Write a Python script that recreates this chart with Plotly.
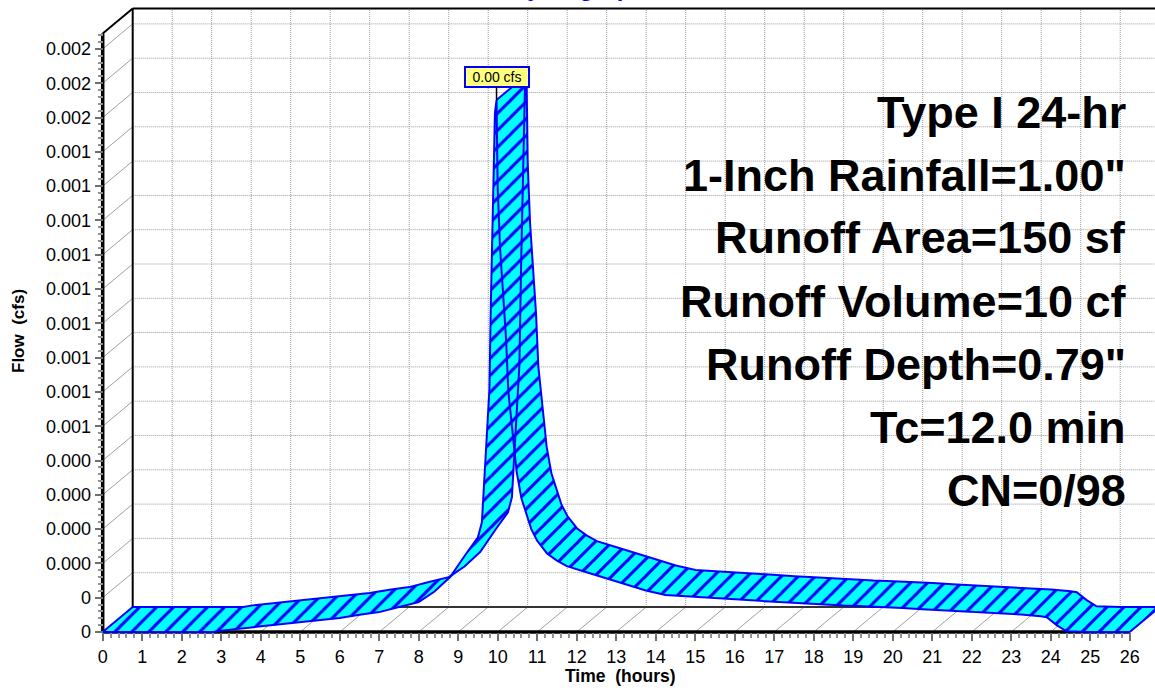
import numpy as np
import plotly.graph_objects as go

# ---------------------------------------------------------------------------
# Hydrograph ordinates (front edge of the 3-D ribbon)
# ---------------------------------------------------------------------------
time_hr = [0.0, 2.8, 3.0, 3.5, 4.0, 4.5, 5.0, 5.5, 6.0, 6.5, 7.0, 7.5, 8.0, 8.4, 8.8,
           9.2, 9.5, 9.6, 9.68, 9.74, 9.79, 9.83, 9.89, 9.93, 9.97, 10.0, 10.06,
           10.14, 10.21, 10.27, 10.39, 10.48, 10.6, 10.73, 10.85, 11.0, 11.25, 11.5,
           11.75, 12.25, 12.75, 13.25, 13.75, 14.25, 14.75, 15.25, 15.75, 16.25,
           16.75, 17.25, 17.75, 18.25, 18.75, 19.25, 19.75, 20.25, 20.75, 21.25,
           21.75, 22.25, 22.75, 23.25, 23.75, 23.9, 24.15, 24.4, 25.0, 26.0]
flow_cfs = [0.0, 0.0, 0.000004, 0.000010, 0.000015, 0.000021, 0.000029, 0.000035,
            0.000041, 0.000050, 0.000058, 0.000073, 0.000087, 0.000118, 0.000161,
            0.000228, 0.000276, 0.000320, 0.000472, 0.000580, 0.000706, 0.000978,
            0.001290, 0.001513, 0.001551, 0.001294, 0.001119, 0.000973, 0.000857,
            0.000700, 0.000565, 0.000467, 0.000390, 0.000340, 0.000300, 0.000266,
            0.000229, 0.000208, 0.000192, 0.000174, 0.000157, 0.000138, 0.000121,
            0.000108, 0.000104, 0.000102, 0.000098, 0.000094, 0.000090, 0.000087,
            0.000083, 0.000080, 0.000077, 0.000075, 0.000073, 0.000070, 0.000066,
            0.000063, 0.000061, 0.000058, 0.000055, 0.000051, 0.000046, 0.000043,
            0.000020, 0.000002, 0.0, 0.0]

# Axis ticks
x_tickvals = list(range(0, 27))
y_tickvals = [round(0.0001 * k, 4) for k in range(18)]
y_ticktext = ["0", "0", "0.000", "0.000", "0.000", "0.000"] + ["0.001"] * 9 + ["0.002"] * 3
flow_axis_top = 0.001745          # top of the front flow axis (cfs)

# Storm / subcatchment summary
summary_lines = ["Type I 24-hr", "1-Inch Rainfall=1.00\"", "Runoff Area=150 sf",
                 "Runoff Volume=10 cf", "Runoff Depth=0.79\"", "Tc=12.0 min", "CN=0/98"]
chart_title = "Hydrograph"
x_title = "Time \u00a0(hours)"
y_title = "Flow \u00a0(cfs)"

# ---------------------------------------------------------------------------
# Page geometry and pseudo-3D depth
# ---------------------------------------------------------------------------
W, H = 1155, 688
X0_PX, PX_PER_HR = 102.7, 39.5        # front time axis origin / scale
Y0_PX, PX_PER_CFS = 632.0, 343000.0    # front flow axis origin / scale
DEPTH_PX = (30.0, 25.0)                # back plane offset (right, up)

x_range = [-X0_PX / PX_PER_HR, (W - X0_PX) / PX_PER_HR]
y_range = [-(H - Y0_PX) / PX_PER_CFS, Y0_PX / PX_PER_CFS]
dx = DEPTH_PX[0] / PX_PER_HR
dy = DEPTH_PX[1] / PX_PER_CFS
x_far = x_range[1] + 1.0
t_end = x_tickvals[-1]

FONT = "Liberation Sans, Arial, sans-serif"
BLUE = "#0000ff"
CYAN = "#00ffff"


def seglines(segments):
    xs, ys = [], []
    for (xa, ya), (xb, yb) in segments:
        xs += [xa, xb, None]
        ys += [ya, yb, None]
    return xs, ys


fig = go.Figure()

# Back-plane grid (dotted)
grid = [((h + dx, dy), (h + dx, flow_axis_top + dy)) for h in x_tickvals[1:]]
grid += [((dx, v + dy), (x_far, v + dy)) for v in y_tickvals[1:]]
gx, gy = seglines(grid)
fig.add_trace(go.Scatter(x=gx, y=gy, mode="lines",
                         line=dict(color="#9a9a9a", width=1, dash="1px,1px"),
                         hoverinfo="skip"))

# Depth lines on the floor and side wall
depth = [((h, 0), (h + dx, dy)) for h in x_tickvals[1:]]
depth += [((0, v), (dx, v + dy)) for v in y_tickvals[1:]]
dxs, dys = seglines(depth)
fig.add_trace(go.Scatter(x=dxs, y=dys, mode="lines",
                         line=dict(color="#a0a0a0", width=1), hoverinfo="skip"))

# Back plane frame
fig.add_trace(go.Scatter(x=[dx, x_far], y=[dy, dy], mode="lines",
                         line=dict(color="#333333", width=2), hoverinfo="skip"))
frame = [((dx, dy), (dx, flow_axis_top + dy)),
         ((dx, flow_axis_top + dy), (x_far, flow_axis_top + dy)),
         ((0, flow_axis_top), (dx, flow_axis_top + dy))]
fx, fy = seglines(frame)
fig.add_trace(go.Scatter(x=fx, y=fy, mode="lines",
                         line=dict(color="black", width=2), hoverinfo="skip"))

# Front axis lines
fig.add_trace(go.Scatter(x=[0, 0, None, 0, t_end], y=[flow_axis_top, 0, None, 0, 0],
                         mode="lines", line=dict(color="black", width=3.5),
                         hoverinfo="skip"))

# Hydrograph ribbon: one parallelogram per time step, all wound the same way
t = np.asarray(time_hr, dtype=float)
q = np.asarray(flow_cfs, dtype=float)
rx, ry = [], []
for i in range(len(t) - 1):
    quad = [(t[i], q[i]), (t[i + 1], q[i + 1]), (t[i + 1] + dx, q[i + 1] + dy), (t[i] + dx, q[i] + dy)]
    area = 0.0
    for k in range(4):
        xa, ya = quad[k]
        xb, yb = quad[(k + 1) % 4]
        area += (xa * PX_PER_HR) * (yb * PX_PER_CFS) - (xb * PX_PER_HR) * (ya * PX_PER_CFS)
    if area < 0:
        quad = quad[::-1]
    for xv, yv in quad + [quad[0]]:
        rx.append(xv)
        ry.append(yv)
    rx.append(None)
    ry.append(None)

fig.add_trace(go.Scatter(x=rx, y=ry, mode="lines", fill="toself",
                         fillcolor=CYAN, line=dict(width=0, color="rgba(0,0,0,0)"),
                         fillpattern=dict(shape="/", fgcolor=BLUE, bgcolor=CYAN,
                                          size=12, solidity=0.25, fillmode="replace"),
                         hoverinfo="skip"))

ipk = int(np.argmax(q))
edge_x = list(t) + [None] + list(t + dx)
edge_y = list(q) + [None] + list(q + dy)
for i in (0, ipk, len(t) - 1):
    edge_x += [None, t[i], t[i] + dx]
    edge_y += [None, q[i], q[i] + dy]
fig.add_trace(go.Scatter(x=edge_x, y=edge_y, mode="lines",
                         line=dict(color=BLUE, width=2), hoverinfo="skip"))

# ---------------------------------------------------------------------------
# Annotations
# ---------------------------------------------------------------------------
def px_x(p):
    return p / W


def px_y(p):
    return 1 - p / H


annotations = []
line_top, line_step = 112, 63
for j, txt in enumerate(summary_lines):
    annotations.append(dict(text=f"<b>{txt}</b>", xref="paper", yref="paper",
                            x=px_x(1128), y=px_y(line_top + j * line_step),
                            xanchor="right", yanchor="middle", showarrow=False,
                            font=dict(family=FONT, size=45, color="black")))

annotations.append(dict(text=f"<b>{x_title}</b>", xref="paper", yref="paper",
                        x=px_x(620), y=px_y(676), xanchor="center", yanchor="middle",
                        showarrow=False, font=dict(family=FONT, size=17.5, color="black")))
annotations.append(dict(text=f"<b>{y_title}</b>", xref="paper", yref="paper",
                        x=px_x(18), y=px_y(331), xanchor="center", yanchor="middle",
                        textangle=-90, showarrow=False,
                        font=dict(family=FONT, size=17, color="black")))
annotations.append(dict(text=f"<b>{chart_title}</b>", xref="paper", yref="paper",
                        x=px_x(578), y=1, xanchor="center", yanchor="bottom", yshift=-3,
                        showarrow=False, font=dict(family=FONT, size=24, color=BLUE)))

annotations.append(dict(text=f"{q[ipk]:.2f} cfs", x=t[ipk], y=q[ipk], xref="x", yref="y",
                        showarrow=True, arrowhead=0, arrowwidth=1.5, arrowcolor="black",
                        ax=0, ay=-23, bgcolor="#ffff80", bordercolor=BLUE,
                        borderwidth=2, borderpad=1, width=60, height=16,
                        font=dict(family=FONT, size=14, color="black")))

tick_font = dict(family=FONT, size=18, color="black")
x_minor = [h + 0.2 * j for h in x_tickvals[:-1] for j in range(1, 5)]
y_minor = [round(0.00002 * k, 5) for k in range(1, 90)
           if k % 5 != 0 and 0.00002 * k <= flow_axis_top]

fig.update_layout(
    width=W, height=H,
    margin=dict(l=0, r=0, t=0, b=0),
    paper_bgcolor="white", plot_bgcolor="white",
    showlegend=False, hovermode=False,
    annotations=annotations,
    xaxis=dict(range=x_range, domain=[0, 1], anchor="free", position=(H - Y0_PX) / H,
               showgrid=False, zeroline=False, showline=False,
               tickmode="array", tickvals=x_tickvals, ticktext=[str(v) for v in x_tickvals],
               ticks="outside", ticklen=8, tickwidth=2, tickcolor="#707070",
               tickfont=tick_font,
               minor=dict(tickvals=x_minor, ticks="outside", ticklen=5, tickwidth=2,
                          tickcolor="#909090", showgrid=False)),
    yaxis=dict(range=y_range, domain=[0, 1], anchor="free", position=X0_PX / W,
               showgrid=False, zeroline=False, showline=False,
               tickmode="array", tickvals=y_tickvals, ticktext=y_ticktext,
               ticks="outside", ticklen=8, tickwidth=2, tickcolor="#707070",
               tickfont=tick_font,
               minor=dict(tickvals=y_minor, ticks="outside", ticklen=5, tickwidth=2,
                          tickcolor="#909090", showgrid=False)),
)

fig.write_html("out.html")
